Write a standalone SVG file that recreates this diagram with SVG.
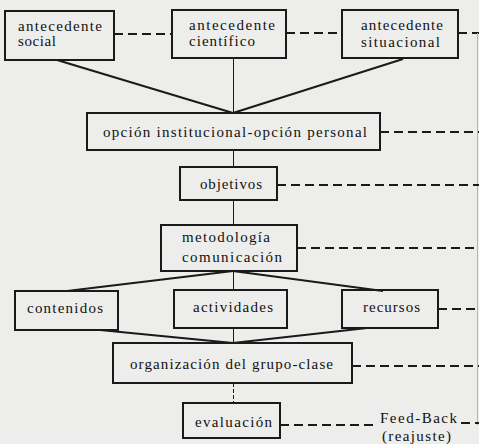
<svg xmlns="http://www.w3.org/2000/svg" width="479" height="444" viewBox="0 0 479 444">
<style>
.bg{fill:#ededeb}
.box{fill:none;stroke:#1a1a1a;stroke-width:2}
.t{font-family:"Liberation Serif","DejaVu Serif",serif;font-size:15px;fill:#111}
.solid{stroke:#1a1a1a;stroke-width:2;fill:none}
.thin{stroke:#1a1a1a;stroke-width:1;fill:none}
.dash{stroke:#1a1a1a;stroke-width:1.8;stroke-dasharray:9,5;fill:none}
.edge{stroke:#b5b5b5;stroke-width:1;fill:none}
</style>
<rect class="bg" x="0" y="0" width="479" height="444"/>
<g id="connectors">
<line class="dash" x1="114" y1="34" x2="172" y2="34"/>
<line class="dash" x1="286" y1="33" x2="342" y2="33"/>
<line class="dash" x1="458" y1="33" x2="479" y2="33"/>
<line class="edge" x1="477.5" y1="33" x2="477.5" y2="425"/>
<line class="solid" x1="57" y1="60" x2="233" y2="113"/>
<line class="solid" x1="403" y1="59" x2="233" y2="113"/>
<line class="thin" x1="233.5" y1="58" x2="233.5" y2="113"/>
<line class="dash" x1="380" y1="132" x2="479" y2="132"/>
<line class="thin" x1="233.5" y1="150" x2="233.5" y2="167"/>
<line class="dash" x1="277" y1="185" x2="479" y2="185"/>
<line class="thin" x1="233.5" y1="200" x2="233.5" y2="225"/>
<line class="dash" x1="297" y1="248" x2="479" y2="248"/>
<line class="solid" x1="233" y1="271" x2="67" y2="291"/>
<line class="solid" x1="233" y1="271" x2="383" y2="291"/>
<line class="thin" x1="233.5" y1="271" x2="233.5" y2="290"/>
<line class="dash" x1="438" y1="309" x2="479" y2="309"/>
<line class="solid" x1="100" y1="330" x2="233" y2="343"/>
<line class="solid" x1="367" y1="328" x2="233" y2="343"/>
<line class="thin" x1="233.5" y1="328" x2="233.5" y2="343"/>
<line class="dash" x1="352" y1="366" x2="479" y2="366"/>
<line class="thin" x1="233.5" y1="383" x2="233.5" y2="403" stroke-dasharray="4,2"/>
<line class="dash" x1="280" y1="425" x2="378" y2="425"/>
<line class="dash" x1="461" y1="423" x2="479" y2="423" stroke-dasharray="5,3"/>
</g>
<g id="antecedente-social">
<rect class="box" x="5" y="11" width="109" height="49"/>
<text class="t" x="18" y="31" textLength="84" lengthAdjust="spacing">antecedente</text>
<text class="t" x="18" y="46" textLength="38" lengthAdjust="spacing">social</text>
</g>
<g id="antecedente-cientifico">
<rect class="box" x="172" y="10" width="114" height="48"/>
<text class="t" x="189" y="30" textLength="86" lengthAdjust="spacing">antecedente</text>
<text class="t" x="189" y="46" textLength="66" lengthAdjust="spacing">científico</text>
</g>
<g id="antecedente-situacional">
<rect class="box" x="342" y="10" width="116" height="48"/>
<text class="t" x="361" y="30" textLength="82" lengthAdjust="spacing">antecedente</text>
<text class="t" x="361" y="47" textLength="79" lengthAdjust="spacing">situacional</text>
</g>
<g id="opcion">
<rect class="box" x="87" y="113" width="293" height="37"/>
<text class="t" x="103" y="137" textLength="264" lengthAdjust="spacing">opción institucional-opción personal</text>
</g>
<g id="objetivos">
<rect class="box" x="180" y="167" width="97" height="33"/>
<text class="t" x="200" y="189" textLength="62" lengthAdjust="spacing">objetivos</text>
</g>
<g id="metodologia">
<rect class="box" x="161" y="225" width="136" height="46"/>
<text class="t" x="182" y="242" textLength="88" lengthAdjust="spacing">metodología</text>
<text class="t" x="182" y="262" textLength="100" lengthAdjust="spacing">comunicación</text>
</g>
<g id="contenidos">
<rect class="box" x="15" y="291" width="103" height="39"/>
<text class="t" x="27" y="313" textLength="76" lengthAdjust="spacing">contenidos</text>
</g>
<g id="actividades">
<rect class="box" x="174" y="290" width="113" height="38"/>
<text class="t" x="193" y="312" textLength="80" lengthAdjust="spacing">actividades</text>
</g>
<g id="recursos">
<rect class="box" x="342" y="290" width="96" height="38"/>
<text class="t" x="363" y="312" textLength="57" lengthAdjust="spacing">recursos</text>
</g>
<g id="organizacion">
<rect class="box" x="113" y="343" width="239" height="40"/>
<text class="t" x="130" y="369" textLength="203" lengthAdjust="spacing">organización del grupo-clase</text>
</g>
<g id="evaluacion">
<rect class="box" x="183" y="403" width="97" height="35"/>
<text class="t" x="195" y="427" textLength="77" lengthAdjust="spacing">evaluación</text>
</g>
<g id="feedback">
<text class="t" x="380" y="423" textLength="77" lengthAdjust="spacing">Feed-Back</text>
<text class="t" x="382" y="441" textLength="69" lengthAdjust="spacing">(reajuste)</text>
</g>
</svg>
